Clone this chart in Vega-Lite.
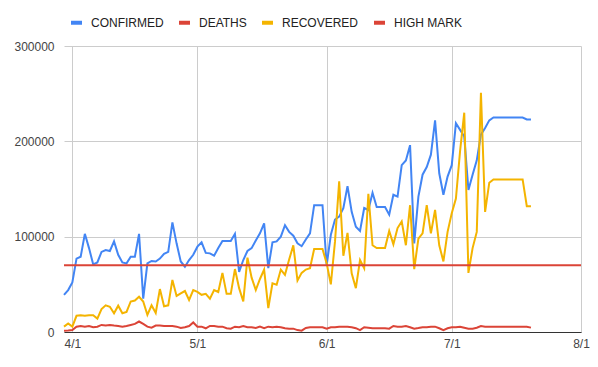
{
"$schema": "https://vega.github.io/schema/vega-lite/v6.json",
"width": 517, "height": 286,
"autosize": {"type": "none"},
"padding": {"left": 64, "top": 46, "right": 17, "bottom": 35},
"background": "white",
"config": {"view": {"stroke": null}, "font": "Liberation Sans"},
"data": {"values": [
{"date":"2020-03-30","CONFIRMED":39000,"DEATHS":1400,"RECOVERED":5600,"HIGH MARK":70000},
{"date":"2020-03-31","CONFIRMED":44000,"DEATHS":1600,"RECOVERED":9000,"HIGH MARK":70000},
{"date":"2020-04-01","CONFIRMED":52000,"DEATHS":2000,"RECOVERED":5600,"HIGH MARK":70000},
{"date":"2020-04-02","CONFIRMED":77000,"DEATHS":5600,"RECOVERED":17000,"HIGH MARK":70000},
{"date":"2020-04-03","CONFIRMED":79000,"DEATHS":6300,"RECOVERED":17500,"HIGH MARK":70000},
{"date":"2020-04-04","CONFIRMED":103000,"DEATHS":5600,"RECOVERED":17000,"HIGH MARK":70000},
{"date":"2020-04-05","CONFIRMED":88000,"DEATHS":6300,"RECOVERED":17500,"HIGH MARK":70000},
{"date":"2020-04-06","CONFIRMED":71000,"DEATHS":5000,"RECOVERED":17500,"HIGH MARK":70000},
{"date":"2020-04-07","CONFIRMED":73000,"DEATHS":5600,"RECOVERED":14000,"HIGH MARK":70000},
{"date":"2020-04-08","CONFIRMED":84000,"DEATHS":7400,"RECOVERED":24000,"HIGH MARK":70000},
{"date":"2020-04-09","CONFIRMED":86000,"DEATHS":6800,"RECOVERED":28000,"HIGH MARK":70000},
{"date":"2020-04-10","CONFIRMED":85000,"DEATHS":7400,"RECOVERED":26500,"HIGH MARK":70000},
{"date":"2020-04-11","CONFIRMED":95000,"DEATHS":6800,"RECOVERED":19600,"HIGH MARK":70000},
{"date":"2020-04-12","CONFIRMED":81000,"DEATHS":6300,"RECOVERED":27600,"HIGH MARK":70000},
{"date":"2020-04-13","CONFIRMED":73000,"DEATHS":5600,"RECOVERED":19600,"HIGH MARK":70000},
{"date":"2020-04-14","CONFIRMED":72000,"DEATHS":6300,"RECOVERED":21000,"HIGH MARK":70000},
{"date":"2020-04-15","CONFIRMED":79000,"DEATHS":7400,"RECOVERED":32000,"HIGH MARK":70000},
{"date":"2020-04-16","CONFIRMED":79000,"DEATHS":8500,"RECOVERED":33000,"HIGH MARK":70000},
{"date":"2020-04-17","CONFIRMED":103000,"DEATHS":11000,"RECOVERED":37000,"HIGH MARK":70000},
{"date":"2020-04-18","CONFIRMED":35000,"DEATHS":8500,"RECOVERED":32000,"HIGH MARK":70000},
{"date":"2020-04-19","CONFIRMED":72000,"DEATHS":5600,"RECOVERED":18000,"HIGH MARK":70000},
{"date":"2020-04-20","CONFIRMED":74500,"DEATHS":4600,"RECOVERED":28000,"HIGH MARK":70000},
{"date":"2020-04-21","CONFIRMED":74000,"DEATHS":6700,"RECOVERED":20000,"HIGH MARK":70000},
{"date":"2020-04-22","CONFIRMED":77000,"DEATHS":6700,"RECOVERED":45000,"HIGH MARK":70000},
{"date":"2020-04-23","CONFIRMED":82000,"DEATHS":6300,"RECOVERED":27000,"HIGH MARK":70000},
{"date":"2020-04-24","CONFIRMED":84000,"DEATHS":6300,"RECOVERED":28000,"HIGH MARK":70000},
{"date":"2020-04-25","CONFIRMED":115000,"DEATHS":6300,"RECOVERED":54600,"HIGH MARK":70000},
{"date":"2020-04-26","CONFIRMED":93000,"DEATHS":5600,"RECOVERED":37800,"HIGH MARK":70000},
{"date":"2020-04-27","CONFIRMED":74000,"DEATHS":4200,"RECOVERED":40600,"HIGH MARK":70000},
{"date":"2020-04-28","CONFIRMED":68500,"DEATHS":5000,"RECOVERED":43000,"HIGH MARK":70000},
{"date":"2020-04-29","CONFIRMED":75500,"DEATHS":6300,"RECOVERED":33600,"HIGH MARK":70000},
{"date":"2020-04-30","CONFIRMED":81000,"DEATHS":10000,"RECOVERED":44000,"HIGH MARK":70000},
{"date":"2020-05-01","CONFIRMED":89500,"DEATHS":5600,"RECOVERED":42000,"HIGH MARK":70000},
{"date":"2020-05-02","CONFIRMED":94000,"DEATHS":5600,"RECOVERED":39000,"HIGH MARK":70000},
{"date":"2020-05-03","CONFIRMED":83000,"DEATHS":3900,"RECOVERED":40000,"HIGH MARK":70000},
{"date":"2020-05-04","CONFIRMED":82500,"DEATHS":6300,"RECOVERED":35000,"HIGH MARK":70000},
{"date":"2020-05-05","CONFIRMED":80000,"DEATHS":6300,"RECOVERED":44000,"HIGH MARK":70000},
{"date":"2020-05-06","CONFIRMED":88000,"DEATHS":5600,"RECOVERED":42000,"HIGH MARK":70000},
{"date":"2020-05-07","CONFIRMED":95500,"DEATHS":5600,"RECOVERED":62000,"HIGH MARK":70000},
{"date":"2020-05-08","CONFIRMED":95500,"DEATHS":3900,"RECOVERED":40000,"HIGH MARK":70000},
{"date":"2020-05-09","CONFIRMED":95500,"DEATHS":3500,"RECOVERED":40000,"HIGH MARK":70000},
{"date":"2020-05-10","CONFIRMED":103000,"DEATHS":5600,"RECOVERED":66000,"HIGH MARK":70000},
{"date":"2020-05-11","CONFIRMED":63000,"DEATHS":5000,"RECOVERED":46000,"HIGH MARK":70000},
{"date":"2020-05-12","CONFIRMED":75500,"DEATHS":6300,"RECOVERED":32000,"HIGH MARK":70000},
{"date":"2020-05-13","CONFIRMED":85000,"DEATHS":5000,"RECOVERED":78000,"HIGH MARK":70000},
{"date":"2020-05-14","CONFIRMED":88000,"DEATHS":5000,"RECOVERED":57000,"HIGH MARK":70000},
{"date":"2020-05-15","CONFIRMED":96000,"DEATHS":4200,"RECOVERED":44000,"HIGH MARK":70000},
{"date":"2020-05-16","CONFIRMED":103500,"DEATHS":5600,"RECOVERED":55600,"HIGH MARK":70000},
{"date":"2020-05-17","CONFIRMED":114000,"DEATHS":3900,"RECOVERED":65500,"HIGH MARK":70000},
{"date":"2020-05-18","CONFIRMED":67000,"DEATHS":5600,"RECOVERED":25000,"HIGH MARK":70000},
{"date":"2020-05-19","CONFIRMED":94000,"DEATHS":5000,"RECOVERED":51000,"HIGH MARK":70000},
{"date":"2020-05-20","CONFIRMED":95000,"DEATHS":5600,"RECOVERED":49600,"HIGH MARK":70000},
{"date":"2020-05-21","CONFIRMED":100000,"DEATHS":5000,"RECOVERED":65500,"HIGH MARK":70000},
{"date":"2020-05-22","CONFIRMED":112000,"DEATHS":3900,"RECOVERED":60000,"HIGH MARK":70000},
{"date":"2020-05-23","CONFIRMED":105000,"DEATHS":3500,"RECOVERED":76000,"HIGH MARK":70000},
{"date":"2020-05-24","CONFIRMED":101000,"DEATHS":3500,"RECOVERED":91000,"HIGH MARK":70000},
{"date":"2020-05-25","CONFIRMED":93000,"DEATHS":2000,"RECOVERED":54000,"HIGH MARK":70000},
{"date":"2020-05-26","CONFIRMED":90000,"DEATHS":1400,"RECOVERED":62000,"HIGH MARK":70000},
{"date":"2020-05-27","CONFIRMED":97000,"DEATHS":4200,"RECOVERED":65500,"HIGH MARK":70000},
{"date":"2020-05-28","CONFIRMED":103500,"DEATHS":5000,"RECOVERED":67000,"HIGH MARK":70000},
{"date":"2020-05-29","CONFIRMED":133000,"DEATHS":5000,"RECOVERED":87000,"HIGH MARK":70000},
{"date":"2020-05-30","CONFIRMED":133000,"DEATHS":5000,"RECOVERED":87000,"HIGH MARK":70000},
{"date":"2020-05-31","CONFIRMED":133000,"DEATHS":5000,"RECOVERED":87000,"HIGH MARK":70000},
{"date":"2020-06-01","CONFIRMED":70000,"DEATHS":3500,"RECOVERED":72000,"HIGH MARK":70000},
{"date":"2020-06-02","CONFIRMED":102000,"DEATHS":5000,"RECOVERED":50000,"HIGH MARK":70000},
{"date":"2020-06-03","CONFIRMED":118000,"DEATHS":5000,"RECOVERED":95000,"HIGH MARK":70000},
{"date":"2020-06-04","CONFIRMED":121000,"DEATHS":5600,"RECOVERED":158000,"HIGH MARK":70000},
{"date":"2020-06-05","CONFIRMED":130000,"DEATHS":5600,"RECOVERED":80000,"HIGH MARK":70000},
{"date":"2020-06-06","CONFIRMED":153000,"DEATHS":5600,"RECOVERED":104000,"HIGH MARK":70000},
{"date":"2020-06-07","CONFIRMED":126000,"DEATHS":5000,"RECOVERED":61500,"HIGH MARK":70000},
{"date":"2020-06-08","CONFIRMED":110500,"DEATHS":4000,"RECOVERED":46000,"HIGH MARK":70000},
{"date":"2020-06-09","CONFIRMED":106000,"DEATHS":2000,"RECOVERED":75500,"HIGH MARK":70000},
{"date":"2020-06-10","CONFIRMED":130000,"DEATHS":5000,"RECOVERED":66800,"HIGH MARK":70000},
{"date":"2020-06-11","CONFIRMED":128000,"DEATHS":4500,"RECOVERED":145000,"HIGH MARK":70000},
{"date":"2020-06-12","CONFIRMED":146000,"DEATHS":3900,"RECOVERED":91000,"HIGH MARK":70000},
{"date":"2020-06-13","CONFIRMED":131000,"DEATHS":3900,"RECOVERED":88000,"HIGH MARK":70000},
{"date":"2020-06-14","CONFIRMED":131000,"DEATHS":3900,"RECOVERED":88000,"HIGH MARK":70000},
{"date":"2020-06-15","CONFIRMED":131000,"DEATHS":3900,"RECOVERED":88000,"HIGH MARK":70000},
{"date":"2020-06-16","CONFIRMED":123000,"DEATHS":3500,"RECOVERED":106000,"HIGH MARK":70000},
{"date":"2020-06-17","CONFIRMED":144000,"DEATHS":6300,"RECOVERED":92000,"HIGH MARK":70000},
{"date":"2020-06-18","CONFIRMED":142000,"DEATHS":5600,"RECOVERED":109000,"HIGH MARK":70000},
{"date":"2020-06-19","CONFIRMED":175000,"DEATHS":5600,"RECOVERED":116000,"HIGH MARK":70000},
{"date":"2020-06-20","CONFIRMED":180000,"DEATHS":6300,"RECOVERED":91000,"HIGH MARK":70000},
{"date":"2020-06-21","CONFIRMED":196000,"DEATHS":5000,"RECOVERED":133000,"HIGH MARK":70000},
{"date":"2020-06-22","CONFIRMED":93000,"DEATHS":3500,"RECOVERED":66000,"HIGH MARK":70000},
{"date":"2020-06-23","CONFIRMED":142000,"DEATHS":4200,"RECOVERED":98000,"HIGH MARK":70000},
{"date":"2020-06-24","CONFIRMED":165000,"DEATHS":5000,"RECOVERED":103500,"HIGH MARK":70000},
{"date":"2020-06-25","CONFIRMED":173000,"DEATHS":5000,"RECOVERED":133000,"HIGH MARK":70000},
{"date":"2020-06-26","CONFIRMED":186000,"DEATHS":5600,"RECOVERED":103500,"HIGH MARK":70000},
{"date":"2020-06-27","CONFIRMED":222000,"DEATHS":5600,"RECOVERED":128000,"HIGH MARK":70000},
{"date":"2020-06-28","CONFIRMED":166500,"DEATHS":3900,"RECOVERED":91000,"HIGH MARK":70000},
{"date":"2020-06-29","CONFIRMED":144000,"DEATHS":2000,"RECOVERED":74000,"HIGH MARK":70000},
{"date":"2020-06-30","CONFIRMED":163000,"DEATHS":3900,"RECOVERED":105000,"HIGH MARK":70000},
{"date":"2020-07-01","CONFIRMED":175000,"DEATHS":5000,"RECOVERED":124500,"HIGH MARK":70000},
{"date":"2020-07-02","CONFIRMED":219000,"DEATHS":5000,"RECOVERED":140000,"HIGH MARK":70000},
{"date":"2020-07-03","CONFIRMED":212000,"DEATHS":5600,"RECOVERED":190000,"HIGH MARK":70000},
{"date":"2020-07-04","CONFIRMED":205000,"DEATHS":4500,"RECOVERED":230000,"HIGH MARK":70000},
{"date":"2020-07-05","CONFIRMED":149000,"DEATHS":3500,"RECOVERED":62000,"HIGH MARK":70000},
{"date":"2020-07-06","CONFIRMED":165000,"DEATHS":3500,"RECOVERED":88000,"HIGH MARK":70000},
{"date":"2020-07-07","CONFIRMED":180000,"DEATHS":4500,"RECOVERED":105000,"HIGH MARK":70000},
{"date":"2020-07-08","CONFIRMED":207000,"DEATHS":6300,"RECOVERED":251000,"HIGH MARK":70000},
{"date":"2020-07-09","CONFIRMED":214000,"DEATHS":5600,"RECOVERED":126000,"HIGH MARK":70000},
{"date":"2020-07-10","CONFIRMED":222000,"DEATHS":5600,"RECOVERED":156600,"HIGH MARK":70000},
{"date":"2020-07-11","CONFIRMED":225000,"DEATHS":5600,"RECOVERED":160000,"HIGH MARK":70000},
{"date":"2020-07-12","CONFIRMED":225000,"DEATHS":5600,"RECOVERED":160000,"HIGH MARK":70000},
{"date":"2020-07-13","CONFIRMED":225000,"DEATHS":5600,"RECOVERED":160000,"HIGH MARK":70000},
{"date":"2020-07-14","CONFIRMED":225000,"DEATHS":5600,"RECOVERED":160000,"HIGH MARK":70000},
{"date":"2020-07-15","CONFIRMED":225000,"DEATHS":5600,"RECOVERED":160000,"HIGH MARK":70000},
{"date":"2020-07-16","CONFIRMED":225000,"DEATHS":5600,"RECOVERED":160000,"HIGH MARK":70000},
{"date":"2020-07-17","CONFIRMED":225000,"DEATHS":5600,"RECOVERED":160000,"HIGH MARK":70000},
{"date":"2020-07-18","CONFIRMED":225000,"DEATHS":5600,"RECOVERED":160000,"HIGH MARK":70000},
{"date":"2020-07-19","CONFIRMED":223000,"DEATHS":5600,"RECOVERED":132000,"HIGH MARK":70000},
{"date":"2020-07-20","CONFIRMED":223000,"DEATHS":4600,"RECOVERED":132000,"HIGH MARK":70000},
{"date":"2020-08-01","CONFIRMED":null,"DEATHS":null,"RECOVERED":null,"HIGH MARK":70000}
]},
"transform": [{"fold": ["CONFIRMED", "DEATHS", "RECOVERED", "HIGH MARK"], "as": ["series", "value"]}],
"mark": {"type": "line", "strokeWidth": 2},
"encoding": {
  "x": {"field": "date", "type": "temporal",
    "scale": {"type": "utc", "domain": [{"year": 2020, "month": 3, "date": 30, "utc": true}, {"year": 2020, "month": 8, "date": 1, "utc": true}]},
    "axis": {"title": null, "values": [{"year": 2020, "month": 4, "date": 1, "utc": true}, {"year": 2020, "month": 5, "date": 1, "utc": true}, {"year": 2020, "month": 6, "date": 1, "utc": true}, {"year": 2020, "month": 7, "date": 1, "utc": true}, {"year": 2020, "month": 8, "date": 1, "utc": true}],
      "format": "%-m/%-d", "grid": true, "gridColor": "#cccccc", "domain": true, "domainColor": "#333333", "ticks": false,
      "labelPadding": 6, "labelFontSize": 12, "labelColor": "#444444", "labelFont": "Liberation Sans", "labelFlush": false, "labelOverlap": false, "labelAngle": 0}},
  "y": {"field": "value", "type": "quantitative",
    "scale": {"domain": [0, 300000], "nice": false},
    "axis": {"title": null, "values": [0, 100000, 200000, 300000], "format": "d", "grid": true, "gridColor": "#cccccc", "domain": false, "ticks": false,
      "labelPadding": 10, "labelFontSize": 12, "labelColor": "#444444", "labelFont": "Liberation Sans"}},
  "color": {"field": "series", "type": "nominal",
    "scale": {"domain": ["CONFIRMED", "DEATHS", "RECOVERED", "HIGH MARK"], "range": ["#4285F4", "#DB4437", "#F4B400", "#DB4437"]},
    "legend": {"title": null, "orient": "none", "direction": "horizontal", "legendX": 5, "legendY": -31,
      "symbolType": "stroke", "symbolStrokeWidth": 4, "symbolSize": 121, "labelOffset": 7, "columnPadding": 7,
      "labelFontSize": 12, "labelColor": "#222222", "labelFont": "Liberation Sans"}}
}
}
